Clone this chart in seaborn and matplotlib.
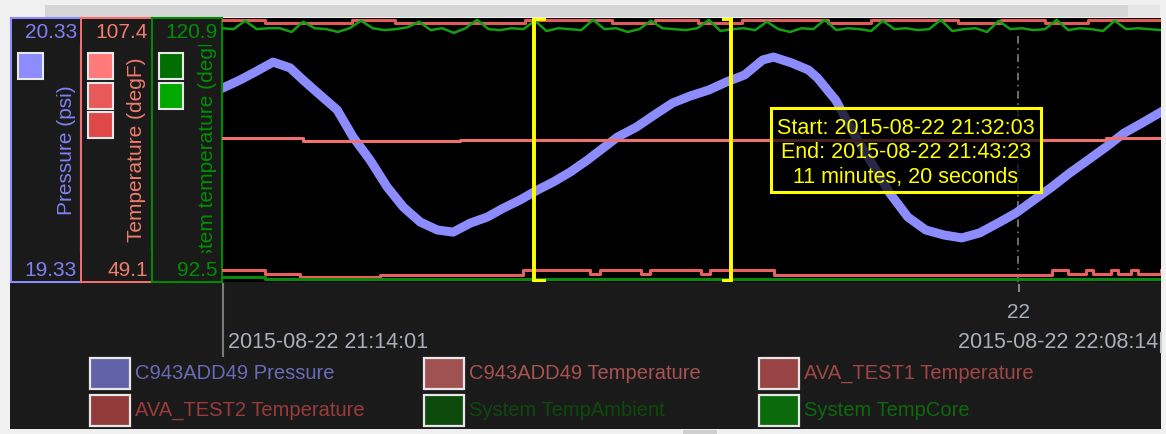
import matplotlib
matplotlib.use("Agg")
import matplotlib.pyplot as plt
import seaborn as sns
import numpy as np
import pandas as pd
from matplotlib.patches import Rectangle
from matplotlib.lines import Line2D

# ---------------- data ----------------
START = "2015-08-22 21:14:01"
END = "2015-08-22 22:08:14"
SEL_START = "2015-08-22 21:32:03"
SEL_END = "2015-08-22 21:43:23"
HOUR_TICK = "2015-08-22 22:00:00"
HOUR_TICK_LABEL = "22"

pressure_range = [19.33, 20.33]
temp_range = [49.1, 107.4]
sys_range = [92.5, 120.9]

axis_titles = ["Pressure (psi)", "Temperature (degF)", "System temperature (degF)"]

# C943ADD49 Pressure (seconds after START, psi)
pressure_t = [3, 62, 114, 177, 236, 281, 340, 399, 454, 513, 572, 628, 687, 746, 801, 860,
              919, 975, 1033, 1092, 1148, 1207, 1266, 1321, 1370, 1436, 1498, 1561, 1623,
              1686, 1748, 1810, 1873, 1911, 1973, 2032, 2063, 2126, 2188, 2251, 2313, 2376,
              2438, 2501, 2563, 2625, 2688, 2750, 2813, 2875, 2937, 3000, 3062, 3125, 3187, 3253]
pressure_v = [20.065, 20.095, 20.125, 20.163, 20.141, 20.095, 20.038, 19.982, 19.879, 19.792,
              19.690, 19.614, 19.557, 19.527, 19.519, 19.553, 19.576, 19.610, 19.641, 19.678,
              19.709, 19.747, 19.792, 19.838, 19.879, 19.917, 19.963, 20.008, 20.035, 20.057,
              20.088, 20.114, 20.171, 20.182, 20.160, 20.133, 20.103, 20.019, 19.894, 19.781,
              19.667, 19.576, 19.527, 19.508, 19.497, 19.516, 19.553, 19.591, 19.641, 19.690,
              19.743, 19.792, 19.841, 19.894, 19.932, 19.974]

# C943ADD49 Temperature (degF)
c943_temp_t = [0, 281, 825, 3062, 3253]
c943_temp_v = [80.9, 80.2, 80.5, 80.9, 80.9]

# AVA_TEST1 Temperature (degF)
ava1_t = [0, 150, 300, 450, 600, 750, 900, 1050, 1200, 1350, 1500, 1650, 1800, 1950, 2100,
          2250, 2400, 2550, 2700, 2850, 3000, 3150, 3253]
ava1_v = [106.9, 106.3, 106.3, 106.9, 106.3, 106.3, 106.3, 106.9, 106.9, 106.3, 106.9, 106.3,
          106.9, 106.9, 106.3, 106.9, 106.9, 106.3, 106.9, 106.3, 106.9, 106.9, 106.9]

# AVA_TEST2 Temperature (degF)
ava2_t = [0, 149, 270, 548, 1044, 1276, 1311, 1450, 1484, 1658, 1692, 1911, 2875, 2930, 2993,
          3017, 3080, 3104, 3149, 3173, 3253]
ava2_v = [51.75, 50.9, 50.2, 50.65, 51.75, 50.9, 51.75, 50.9, 51.75, 50.9, 51.75, 50.65, 51.75,
          50.9, 51.75, 50.9, 51.75, 50.9, 51.75, 50.9, 51.75]

# System TempAmbient (degF)
ambient_t = [0, 149, 3253]
ambient_v = [93.0, 92.8, 92.8]

# System TempCore (degF), sampled evenly over the window
core_v = [119.8, 119.7, 120.6, 119.7, 119.8, 119.8, 119.4, 120.5, 119.8, 119.7, 119.4, 119.8,
          120.6, 119.8, 119.6, 119.7, 119.9, 120.5, 119.6, 119.8, 119.3, 119.8, 120.7, 119.7,
          119.6, 119.8, 119.7, 120.6, 119.5, 119.8, 119.7, 119.6, 120.7, 119.7, 119.8, 119.4,
          119.7, 120.6, 119.8, 119.7, 119.6, 119.8, 120.7, 119.5, 119.7, 119.8, 119.6, 120.5,
          119.7, 119.4, 119.8, 119.7, 120.7, 119.6, 119.8, 119.7, 119.5, 120.6, 119.7, 119.8,
          119.6, 119.7, 120.7, 119.5, 119.7, 119.8, 119.4, 120.6, 119.7, 119.8, 119.6, 119.7,
          120.7, 119.6, 119.8, 119.7, 119.5, 120.6, 119.7, 119.8, 119.7, 119.6]

legend_labels = ["C943ADD49 Pressure", "C943ADD49 Temperature", "AVA_TEST1 Temperature",
                 "AVA_TEST2 Temperature", "System TempAmbient", "System TempCore"]

# ---------------- styling ----------------
BG = "#1a1a1a"
C_P = "#8c8cff"
C_T = "#f07070"
C_S = "#008a00"
legend_swatch = ["#6262a8", "#a05252", "#984444", "#903a3a", "#0b4a0b", "#0b6a0b"]
legend_text = ["#6a6ab8", "#a85252", "#a04646", "#9a3a3a", "#0b4a0b", "#0b6a0b"]

plt.rcParams['font.family'] = ['Liberation Sans', 'DejaVu Sans']

W, H = 1166, 434
fig = plt.figure(figsize=(W / 100, H / 100), dpi=100)
fig.patch.set_facecolor("#f0f0f0")


def frect(x0, y0, x1, y1):
    return [x0 / W, 1 - y1 / H, (x1 - x0) / W, (y1 - y0) / H]


def fig_rect(x0, y0, x1, y1, **kw):
    r = Rectangle((x0 / W, 1 - y1 / H), (x1 - x0) / W, (y1 - y0) / H,
                  transform=fig.transFigure, **kw)
    fig.patches.append(r)
    return r


def fx(x):
    return x / W


def fy(y):
    return 1 - y / H


# window chrome
fig_rect(10, 18, 1161, 429, facecolor=BG, edgecolor="none", zorder=-2)
fig_rect(45, 5, 1128, 17, facecolor="#d5d5d5", edgecolor="none", zorder=-2)
fig_rect(1128, 5, 1160, 17, facecolor="#e6e6e6", edgecolor="none", zorder=-2)
fig_rect(683, 430, 717, 434, facecolor="#cfcfcf", edgecolor="none", zorder=-2)

t0 = pd.Timestamp(START)
total = (pd.Timestamp(END) - t0).total_seconds()
sel_s = (pd.Timestamp(SEL_START) - t0).total_seconds()
sel_e = (pd.Timestamp(SEL_END) - t0).total_seconds()
hour_s = (pd.Timestamp(HOUR_TICK) - t0).total_seconds()
core_t = np.linspace(0, total, len(core_v))

# ---------------- left axis panels ----------------
panel_specs = [
    (11, 81, C_P, "#8080f4", pressure_range, "{:.2f}", axis_titles[0], ["#8c8cff"], 150),
    (81, 152, C_T, "#f07c6c", temp_range, "{:.1f}", axis_titles[1], ["#ff7a7a", "#e85a5a", "#e04848"], 150),
    (152, 222, C_S, "#009000", sys_range, "{:.1f}", axis_titles[2], ["#006e00", "#00a800"], 155),
]
for i, (x0, x1, bc, tc, rng, fmt, title, sw, ty) in enumerate(panel_specs):
    pax = fig.add_axes(frect(x0, 18, x1, 282))
    pax.set_facecolor(BG)
    pax.set_xticks([])
    pax.set_yticks([])
    for s in pax.spines.values():
        s.set_color(bc)
        s.set_linewidth(1.5)
    # swatches
    for k, c in enumerate(sw):
        fig_rect(x0 + 6.5, 53 + 29.5 * k, x0 + 31.5, 79 + 29.5 * k, facecolor=c,
                 edgecolor="#e8e8e8", linewidth=1.5, zorder=2)
    # title (drawn under opaque label strips so the long one is hidden at both ends)
    fig.text(fx(x1 - 15), fy(ty), title, rotation=90, ha="center", va="center",
             color=tc, fontsize=15, zorder=2.2)
    fig_rect(x0 + 1, 19, x1 - 1, 45, facecolor=BG, edgecolor="none", zorder=2.5)
    fig_rect(x0 + 1, 253, x1 - 1, 281, facecolor=BG, edgecolor="none", zorder=2.5)
    # range labels
    fig.text(fx(x1 - 4), fy(33), fmt.format(rng[1]), ha="right", va="center",
             color=tc, fontsize=15, zorder=3)
    fig.text(fx(x1 - 4), fy(270), fmt.format(rng[0]), ha="right", va="center",
             color=tc, fontsize=15, zorder=3)

# ---------------- main plot ----------------
ax = fig.add_axes(frect(222, 18, 1161, 282))
ax.set_facecolor("black")
ax_t = ax.twinx()
ax_s = ax.twinx()

ax.axvline(hour_s, ymax=0.93, color="#8a8a8a", lw=1.1, ls=(0, (5, 3, 1, 3)), zorder=1)

sns.lineplot(x=pressure_t, y=pressure_v, ax=ax, color=C_P, linewidth=6.5, zorder=2)

sns.lineplot(x=c943_temp_t, y=c943_temp_v, ax=ax_t, color="#f07070", linewidth=2.2,
             drawstyle="steps-post")
sns.lineplot(x=ava1_t, y=ava1_v, ax=ax_t, color="#e05a5a", linewidth=2.2,
             drawstyle="steps-post")
sns.lineplot(x=ava2_t, y=ava2_v, ax=ax_t, color="#e86060", linewidth=2.2,
             drawstyle="steps-post")

sns.lineplot(x=ambient_t, y=ambient_v, ax=ax_s, color="#0a8a0a", linewidth=2.2,
             drawstyle="steps-post")
sns.lineplot(x=core_t, y=core_v, ax=ax_s, color="#12a012", linewidth=1.8)

ax.set_xlim(0, total)
ax.set_ylim(*pressure_range)
ax_t.set_ylim(*temp_range)
ax_s.set_ylim(*sys_range)
for a in (ax, ax_t, ax_s):
    a.set_xlabel("")
    a.set_ylabel("")
    a.tick_params(left=False, right=False, bottom=False, top=False,
                  labelleft=False, labelright=False, labelbottom=False, labeltop=False)
    for s in a.spines.values():
        s.set_visible(False)
ax.spines["left"].set_visible(True)
ax.spines["left"].set_color(C_S)
ax.spines["left"].set_linewidth(1.5)

# overlay: selection
ax_o = fig.add_axes(frect(222, 18, 1161, 282))
ax_o.patch.set_visible(False)
ax_o.set_xlim(0, total)
ax_o.set_ylim(0, 1)
ax_o.axis("off")
YEL = "#ffff00"
for xs, hook in ((sel_s, 40), (sel_e, -30)):
    ax_o.axvline(xs, color=YEL, lw=2.8)
    ax_o.plot([xs, xs + hook], [0.995, 0.995], color=YEL, lw=2.8, solid_capstyle="butt")
    ax_o.plot([xs, xs + hook], [0.005, 0.005], color=YEL, lw=2.8, solid_capstyle="butt")

# tooltip
dur = int(sel_e - sel_s)
tip_lines = [f"Start: {SEL_START}", f"End: {SEL_END}",
             f"{dur // 60} minutes, {dur % 60} seconds"]
fig_rect(771, 108, 1041, 192, facecolor=(0, 0, 0, 0.72), edgecolor=YEL, linewidth=2.2, zorder=5)
for k, (line, yy) in enumerate(zip(tip_lines, [128, 152, 177])):
    fig.text(fx(906), fy(yy), line, ha="center", va="center", color=YEL, fontsize=15.5, zorder=6)

# ---------------- time axis ----------------
ax_x = fig.add_axes(frect(223, 284, 1161, 356))
ax_x.patch.set_visible(False)
ax_x.set_xlim(0, total)
ax_x.set_ylim(0, 1)
for side, s in ax_x.spines.items():
    s.set_visible(side == "left")
ax_x.spines["left"].set_color("#7a7a7a")
ax_x.spines["left"].set_linewidth(1.5)
ax_x.set_yticks([])
ax_x.set_xticks([hour_s])
ax_x.xaxis.set_ticks_position("top")
ax_x.tick_params(axis="x", direction="in", length=6, width=1.2, color="#9a9a9a",
                 labeltop=False, labelbottom=False)
TXT = "#a9afb8"
ax_x.text(hour_s, (356 - 312) / 72, HOUR_TICK_LABEL, transform=ax_x.get_xaxis_transform(),
          ha="center", va="center", color=TXT, fontsize=15)
fig.text(fx(228), fy(342), START, ha="left", va="center", color=TXT, fontsize=15.5, zorder=3)
fig.text(fx(1158), fy(342), END, ha="right", va="center", color=TXT, fontsize=15.5, zorder=3)
fig.add_artist(Line2D([fx(1161), fx(1161)], [fy(333), fy(352)], color="#c8c8c8", lw=1.5))

# ---------------- legend ----------------
col_x = [90, 424, 759]
row_y = [373.5, 410.5]
for idx, lab in enumerate(legend_labels):
    r, c = divmod(idx, 3)
    x0 = col_x[c]
    yc = row_y[r]
    fig_rect(x0, yc - 15.5, x0 + 40, yc + 15.5, facecolor=legend_swatch[idx],
             edgecolor="#e6e6e6", linewidth=1.6, zorder=2)
    fig.text(fx(x0 + 45), fy(yc), lab, ha="left", va="center", color=legend_text[idx],
             fontsize=14.5, zorder=3)

fig.savefig("out.png", dpi=100, facecolor=fig.get_facecolor())
